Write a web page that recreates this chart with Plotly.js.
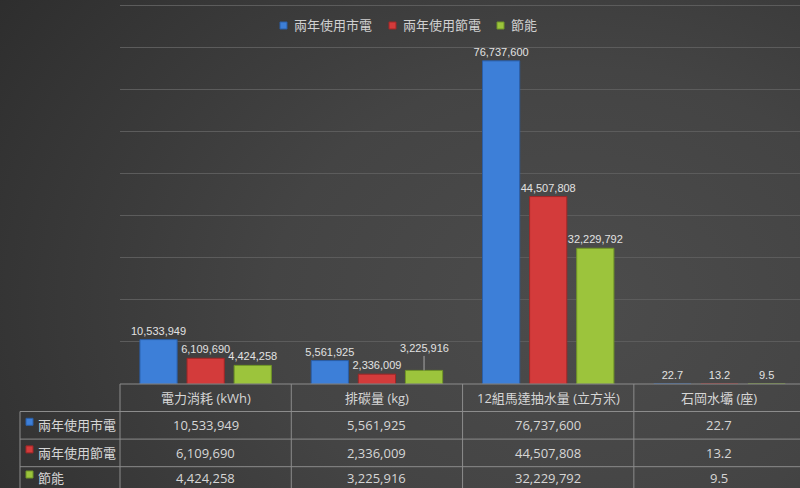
<!DOCTYPE html>
<html>
<head>
<meta charset="utf-8">
<script src="https://cdn.plot.ly/plotly-3.0.1.min.js"></script>
<style>
  html, body { margin: 0; padding: 0; }
  body {
    width: 800px; height: 488px; overflow: hidden;
    background: radial-gradient(ellipse 95% 120% at 72% 62%, #4c4c4c 0%, #444444 40%, #353535 75%, #2a2a2a 100%);
  }
  #chart { width: 800px; height: 488px; }
</style>
</head>
<body>
<div id="chart"></div>
<script>
// ---- data ----
const categories = ['電力消耗 (kWh)', '排碳量 (kg)', '12組馬達抽水量 (立方米)', '石岡水壩 (座)'];
const seriesNames = ['兩年使用市電', '兩年使用節電', '節能'];
const gridPower = [10533949, 5561925, 76737600, 22.7];
const savingPower = [6109690, 2336009, 44507808, 13.2];
const savedEnergy = [4424258, 3225916, 32229792, 9.5];

// ---- style ----
const seriesValues = [gridPower, savingPower, savedEnergy];
const colors = ['#3d7fd8', '#d33b3b', '#9cc43c'];
const edgeColors = ['#2a5ea8', '#a02626', '#6f9526'];
const liftedLabel = { series: 2, category: 1 }; // label drawn with a leader line
const legendItemX = [280, 389, 497];

const W = 800, H = 488, L = 120, R = 0, T = 3, B = 104;
const pw = W - L - R, ph = H - T - B;
const xRange = [-0.5, 3.47];
const colW = pw / (xRange[1] - xRange[0]);
const bargap = 0.175, bargroupgap = 0.21;
const slot = colW * (1 - bargap) / 3;
const yTop = 90000000 * ph / (ph - 2);   // top gridline (90M) sits 2px under the plot top

const fmt = v => v.toLocaleString('en-US', { maximumFractionDigits: 2 });
const X = p => (p - L) / pw;          // pixel -> paper x
const Y = p => (H - B - p) / ph;      // pixel -> paper y

const textFont = 'Open Sans, Noto Sans CJK TC, sans-serif';
const labelFont = 'Liberation Sans, Arial, sans-serif';

const traces = seriesNames.map((name, s) => ({
  type: 'bar',
  name: name,
  x: categories,
  y: seriesValues[s],
  text: seriesValues[s].map((v, c) => (s === liftedLabel.series && c === liftedLabel.category) ? '' : fmt(v)),
  textposition: 'outside',
  constraintext: 'none',
  cliponaxis: false,
  textfont: { family: labelFont, size: 11, color: '#e2e2e2' },
  marker: { color: colors[s], line: { color: edgeColors[s], width: 1 } },
  hoverinfo: 'x+y+name'
}));

const shapes = [];
const annotations = [];
const lineStyle = { color: '#8c8c8c', width: 1 };

// legend (top)
seriesNames.forEach((name, s) => {
  const lx = legendItemX[s];
  shapes.push({
    type: 'rect', xref: 'paper', yref: 'paper',
    x0: X(lx), x1: X(lx + 7), y0: Y(29), y1: Y(22),
    fillcolor: colors[s], line: { color: edgeColors[s], width: 1 }
  });
  annotations.push({
    xref: 'paper', yref: 'paper', x: X(lx + 12), y: Y(25),
    text: name, showarrow: false, xanchor: 'left', yanchor: 'middle',
    font: { family: textFont, size: 13, color: '#d0d0d0' }
  });
});

// table geometry (pixels)
const tableTop = H - B;           // 384
const rowH = 27.6;
const headerH = 27.5;
const rowLabelLeft = 20;
const rowsTop = tableTop + headerH;

// horizontal lines
shapes.push({ type: 'line', xref: 'paper', yref: 'paper', x0: X(L), x1: X(W), y0: Y(tableTop), y1: Y(tableTop), line: lineStyle });
for (let r = 0; r < seriesNames.length; r++) {
  const yy = rowsTop + r * rowH;
  shapes.push({ type: 'line', xref: 'paper', yref: 'paper', x0: X(rowLabelLeft), x1: X(W), y0: Y(yy), y1: Y(yy), line: lineStyle });
}
// vertical lines
shapes.push({ type: 'line', xref: 'paper', yref: 'paper', x0: X(rowLabelLeft), x1: X(rowLabelLeft), y0: Y(rowsTop), y1: Y(H + 10), line: lineStyle });
for (let c = 0; c < categories.length; c++) {
  const xx = L + c * colW;
  shapes.push({ type: 'line', xref: 'paper', yref: 'paper', x0: X(xx), x1: X(xx), y0: Y(tableTop), y1: Y(H + 10), line: lineStyle });
}

// header texts
categories.forEach((cat, c) => {
  annotations.push({
    xref: 'paper', yref: 'paper', x: X(L + (c + 0.5) * colW), y: Y(tableTop + headerH / 2),
    text: cat, showarrow: false, xanchor: 'center', yanchor: 'middle',
    font: { family: textFont, size: 13, color: '#d6d6d6' }
  });
});

// rows
seriesNames.forEach((name, s) => {
  const cy = Math.min(rowsTop + (s + 0.5) * rowH, H - 10);
  shapes.push({
    type: 'rect', xref: 'paper', yref: 'paper',
    x0: X(26), x1: X(33), y0: Y(cy - 7), y1: Y(cy),
    fillcolor: colors[s], line: { color: edgeColors[s], width: 1 }
  });
  annotations.push({
    xref: 'paper', yref: 'paper', x: X(36), y: Y(cy),
    text: name, showarrow: false, xanchor: 'left', yanchor: 'middle',
    font: { family: textFont, size: 13, color: '#d6d6d6' }
  });
  seriesValues[s].forEach((v, c) => {
    annotations.push({
      xref: 'paper', yref: 'paper', x: X(L + (c + 0.5) * colW), y: Y(cy),
      text: fmt(v), showarrow: false, xanchor: 'center', yanchor: 'middle',
      font: { family: textFont, size: 13, color: '#d6d6d6' }
    });
  });
});

// lifted data label with leader line
annotations.push({
  x: categories[liftedLabel.category],
  y: seriesValues[liftedLabel.series][liftedLabel.category],
  xref: 'x', yref: 'y',
  xshift: (liftedLabel.series - 1) * slot,
  text: fmt(seriesValues[liftedLabel.series][liftedLabel.category]),
  showarrow: true, arrowhead: 0, arrowwidth: 1, arrowcolor: '#a8a8a8',
  ax: 0, ay: -22, standoff: 0,
  font: { family: labelFont, size: 11, color: '#e2e2e2' }
});

const layout = {
  width: W, height: H,
  margin: { l: L, r: R, t: T, b: B, pad: 0 },
  paper_bgcolor: 'rgba(0,0,0,0)',
  plot_bgcolor: 'rgba(0,0,0,0)',
  barmode: 'group',
  bargap: bargap,
  bargroupgap: bargroupgap,
  showlegend: false,
  xaxis: {
    type: 'category', range: xRange, showticklabels: false, showgrid: false,
    zeroline: false, showline: false, ticks: ''
  },
  yaxis: {
    range: [0, yTop], dtick: 10000000, showticklabels: false,
    showgrid: true, gridcolor: '#5c5c5c', gridwidth: 1, zeroline: false, showline: false, ticks: ''
  },
  shapes: shapes,
  annotations: annotations
};

Plotly.newPlot('chart', traces, layout, { displayModeBar: false, staticPlot: true });
</script>
</body>
</html>
